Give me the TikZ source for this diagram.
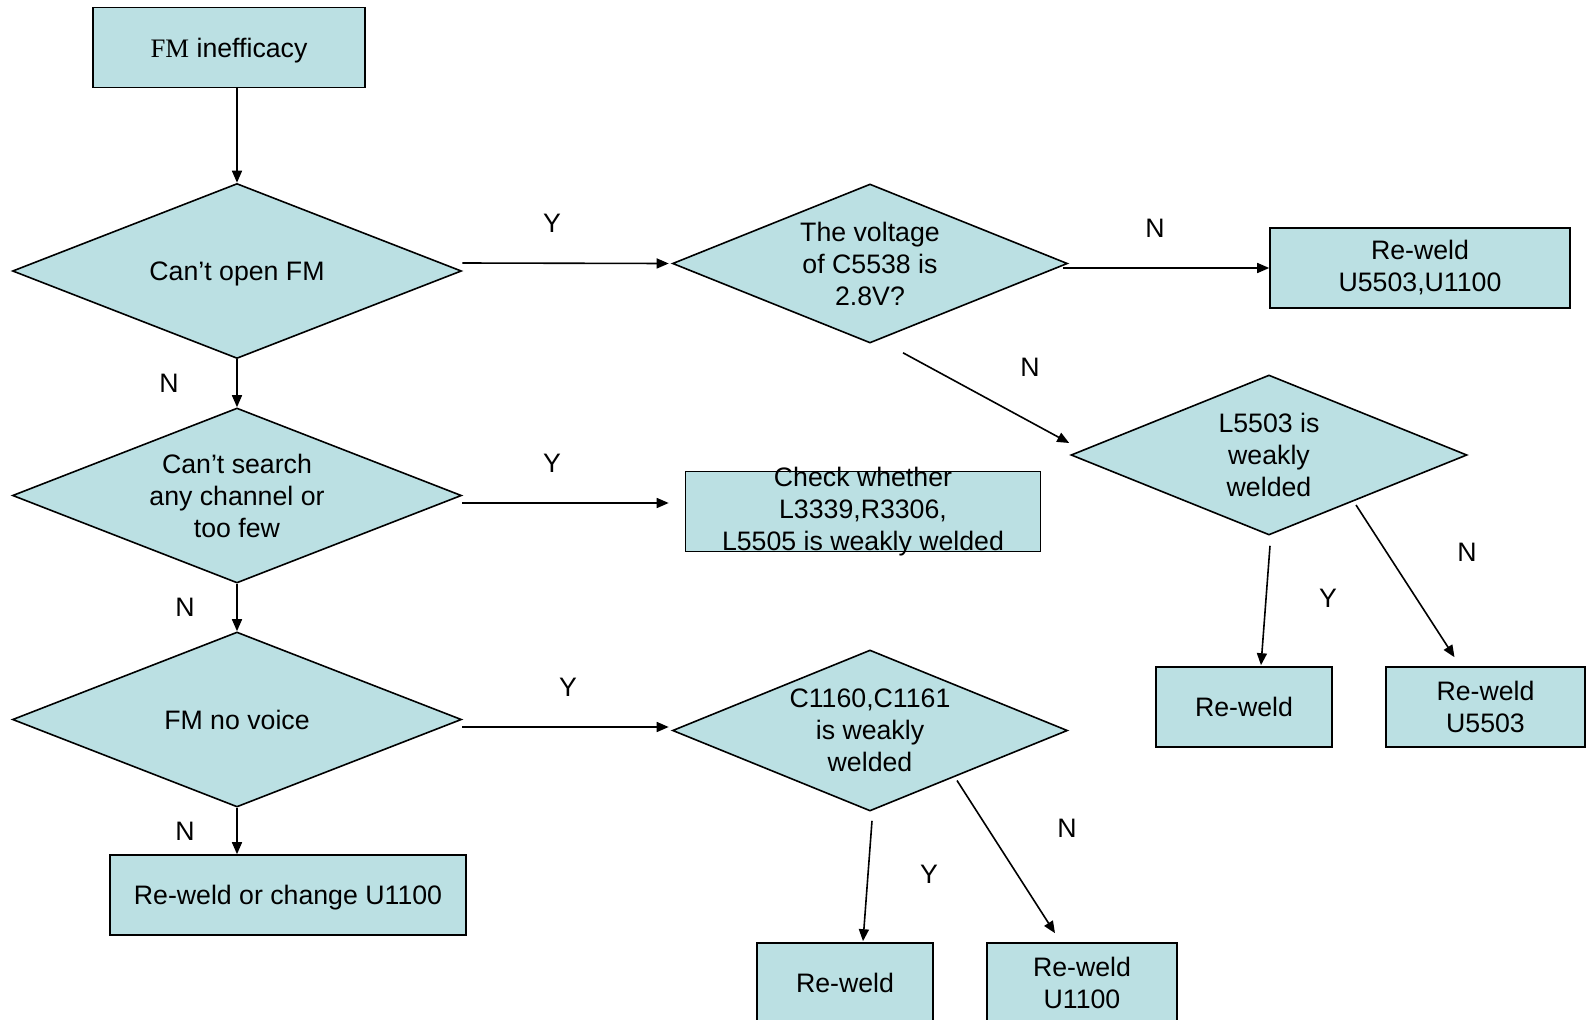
\documentclass[tikz,border=0pt]{standalone}
\usepackage{fontspec}
\setmainfont{Liberation Sans}
\newfontfamily\fmserif{Liberation Serif}
\usetikzlibrary{shapes.geometric,arrows.meta,calc}
\definecolor{fillc}{RGB}{187,224,227}
\tikzset{
  every node/.style={font=\fontsize{26.7pt}{32pt}\selectfont},
  box/.style={draw=black, line width=1.6pt, fill=fillc, rectangle, inner sep=0pt, align=center},
  dia/.style={draw=black, line width=1.6pt, fill=fillc, diamond, inner sep=0pt, align=center},
  arr/.style={line width=1.6pt, -{Triangle[length=12pt,width=10pt]}},
  lbl/.style={inner sep=0pt}
}
\begin{document}
\begin{tikzpicture}[x=1pt,y=-1pt]
\useasboundingbox (0,0) rectangle (1591,1020);
\clip (0,0) rectangle (1591,1020);
% boxes
\node[box, text depth=0pt, minimum width=272, minimum height=80] (b0) at (229,47.5) {{\fmserif FM} inefficacy};
\node[dia, text depth=0pt, aspect=2.57, minimum width=449, minimum height=175] (d1) at (237,271) {Can’t open FM};
\node[dia, aspect=2.57, minimum width=449, minimum height=175] (d2) at (237,495.5) {Can’t search\\any channel or\\too few};
\node[dia, aspect=2.57, minimum width=449, minimum height=175] (d3) at (237,719.5) {FM no voice};
\node[box, text depth=0pt, minimum width=356, minimum height=80] (b5) at (288,895) {Re-weld or change U1100};
\node[dia, aspect=2.48, minimum width=395, minimum height=159] (v) at (870,263.5) {The voltage\\of C5538 is\\2.8V?};
\node[box, minimum width=300, minimum height=80] (r1) at (1420,268) {Re-weld\\U5503,U1100};
\node[dia, aspect=2.48, minimum width=396, minimum height=160] (L) at (1269,455) {L5503 is\\weakly\\welded};
\node[box, minimum width=355, minimum height=80] (chk) at (863,511.5) {};
\node[lbl, align=center] (chkt) at (chk.center) {Check whether\\L3339,R3306,\\L5505 is weakly welded};
\node[dia, aspect=2.48, minimum width=395, minimum height=161] (c) at (870,730.5) {C1160,C1161\\is weakly\\welded};
\node[box, minimum width=176, minimum height=80] (rw1) at (1244,707) {Re-weld};
\node[box, minimum width=199, minimum height=80] (rw2) at (1485.5,707) {Re-weld\\U5503};
\node[box, minimum width=176, minimum height=79] (rw3) at (845,982.5) {Re-weld};
\node[box, minimum width=190, minimum height=79] (rw4) at (1082,982.5) {Re-weld\\U1100};
% connectors
\draw[arr] (b0.south -| d1.north) -- (d1.north);
\draw[arr] (d1.south) -- (d2.north);
\draw[arr] (d2.south) -- (d3.north);
\draw[arr] (d3.south) -- (d3.south |- b5.north);
\draw[arr] ($(d1.east)+(0,-8)$) -- ($(v.west)+(-3,0)$);
\draw[arr] ($(d2.east)+(0,7.5)$) -- ($(chk.west)+(-16,-8.5)$);
\draw[arr] ($(d3.east)+(0,7.5)$) -- ($(c.west)+(-3,-3.5)$);
\draw[arr] ($(v.east)+(-5,4.5)$) -- (r1.west);
\draw[arr] ($(v.south)+(33,9)$) -- ($(L.west)+(-1,-12)$);
\draw[arr] ($(L.south)+(1,10)$) -- ($(rw1.north)+(17,-1)$);
\draw[arr] ($(L.center)+(87,50)$) -- ($(rw2.north)+(-31,-9)$);
\draw[arr] ($(c.south)+(2,9)$) -- ($(rw3.north)+(18,-1)$);
\draw[arr] ($(c.center)+(87,50)$) -- ($(rw4.north)+(-27,-9)$);
% labels
\node[lbl] (y1) at (552,223) {Y};
\node[lbl] (n1) at (1155,228) {N};
\node[lbl] (n2) at (169,383) {N};
\node[lbl] (n3) at (1030,367) {N};
\node[lbl] (y2) at (552,463) {Y};
\node[lbl] (n4) at (185,607) {N};
\node[lbl] (y3) at (568,687) {Y};
\node[lbl] (n5) at (1467,552) {N};
\node[lbl] (y4) at (1328,598) {Y};
\node[lbl] (n6) at (185,831) {N};
\node[lbl] (n7) at (1067,828) {N};
\node[lbl] (y5) at (929,874) {Y};
\end{tikzpicture}
\end{document}
